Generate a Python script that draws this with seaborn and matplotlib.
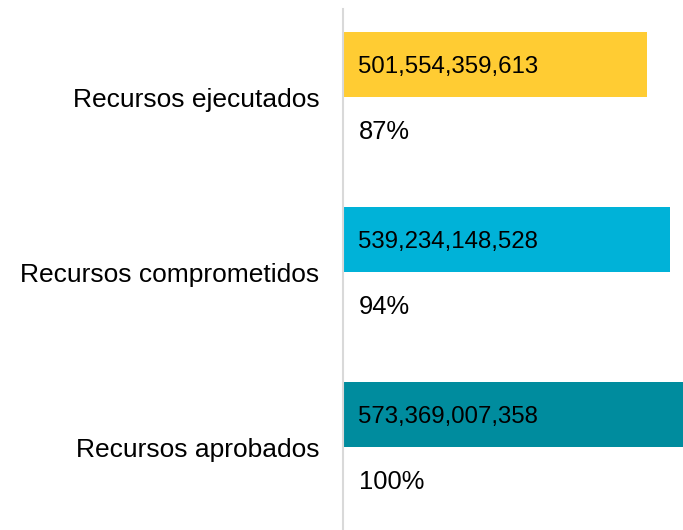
import pandas as pd
import matplotlib.pyplot as plt
import seaborn as sns

# datos
categorias = ["Recursos ejecutados", "Recursos comprometidos", "Recursos aprobados"]
montos = [501554359613, 539234148528, 573369007358]
porcentajes = [87, 94, 100]
colores = ["#FFCC33", "#00B2D8", "#008C9E"]

df = pd.DataFrame({
    "categoria": categorias * 2,
    "serie": ["Monto"] * 3 + ["Porcentaje"] * 3,
    "valor": montos + [0] * 3,
})

sns.set_style("white")
plt.rcParams["font.family"] = ["Liberation Sans", "DejaVu Sans"]

fig = plt.figure(figsize=(6.83, 5.3), dpi=100)
ax = fig.add_axes([343 / 683, 0, 340 / 683, 521 / 530])

sns.barplot(data=df, y="categoria", x="valor", hue="serie", order=categorias,
            hue_order=["Monto", "Porcentaje"], orient="h", dodge=True,
            width=0.743, gap=0, saturation=1, legend=False, ax=ax,
            palette=["#FFCC33", "#FFFFFF"], edgecolor="none", linewidth=0)

# colores por categoria
for barra, color in zip(ax.containers[0], colores):
    barra.set_facecolor(color)

# etiquetas dentro de las barras y porcentajes debajo
for barra, monto in zip(ax.containers[0], montos):
    yc = barra.get_y() + barra.get_height() / 2
    ax.annotate(f"{monto:,}", xy=(0, yc), xytext=(15, -2), textcoords="offset pixels",
                ha="left", va="center", fontsize=17.3, color="black")
for barra, pct in zip(ax.containers[1], porcentajes):
    yc = barra.get_y() + barra.get_height() / 2
    ax.annotate(f"{pct}%", xy=(0, yc), xytext=(16, -2), textcoords="offset pixels",
                ha="left", va="center", fontsize=18.4, color="black")

ax.set_xlim(0, 560.8e9)
ax.set_ylim(2.474, -0.503)
ax.set_xlabel("")
ax.set_ylabel("")
ax.set_xticks([])
ax.tick_params(axis="y", length=0, pad=17, labelsize=19, labelcolor="black")

for lado in ["top", "right", "bottom"]:
    ax.spines[lado].set_visible(False)
ax.spines["left"].set_color("#D9D9D9")
ax.spines["left"].set_linewidth(1.5)

fig.savefig("out.png", dpi=100)
